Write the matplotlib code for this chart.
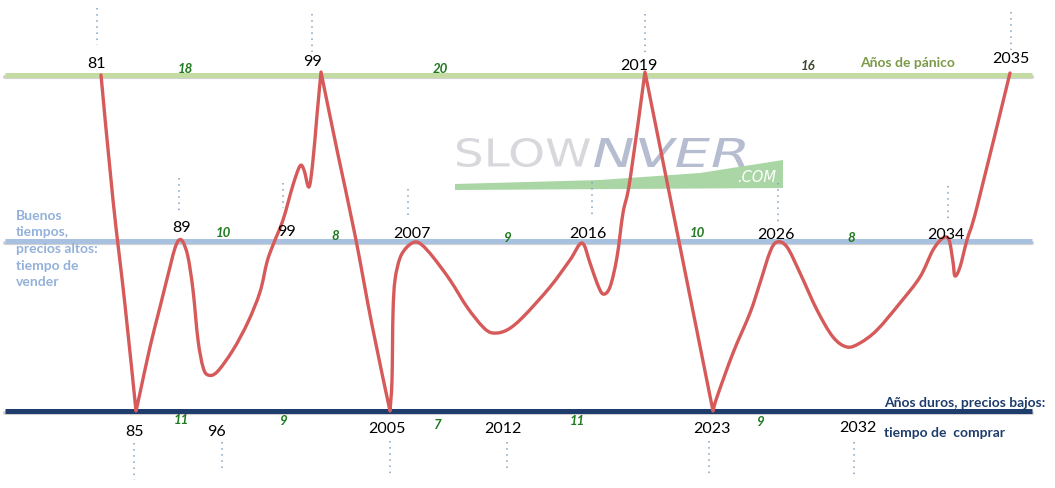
import matplotlib
matplotlib.use("Agg")
import numpy as np
import matplotlib.pyplot as plt
from matplotlib.textpath import TextPath
from matplotlib.patches import PathPatch, Polygon
from matplotlib.path import Path
from matplotlib.font_manager import FontProperties
from matplotlib.transforms import Affine2D

plt.rcParams['font.family'] = ['Lato', 'DejaVu Sans']

# Red cycle curve (x = position, y = level, top = 0)
curve_x = [101, 113, 125, 136,
           140, 150, 160, 170, 175, 179, 183, 188, 193, 198, 203, 208, 217, 233, 248, 260,
           267, 273, 283, 293, 300, 304, 309, 313, 317, 321,
           337, 355, 372, 390,
           392, 393, 395, 400, 407, 415, 422, 433, 450, 467, 483, 493, 507, 523, 550, 570,
           582, 590, 597, 603, 610, 617, 623, 630, 645,
           713,
           717, 733, 750, 760, 770, 777, 787, 800, 817, 833, 847, 860, 877, 900, 920, 933,
           943, 949, 953, 955, 960, 967, 977, 1010]
curve_y = [75, 200, 305, 411,
           393, 347, 307, 267, 248, 240, 242, 257, 290, 340, 367, 375, 372, 350, 322, 292,
           262, 245, 220, 185, 166, 170, 187, 160, 115, 72,
           150, 235, 325, 411,
           380, 313, 280, 258, 247, 242, 245, 257, 280, 307, 327, 333, 330, 317, 287, 260,
           243, 263, 283, 294, 287, 257, 213, 180, 72,
           411,
           397, 353, 313, 283, 252, 242, 247, 273, 310, 337, 347, 343, 330, 303, 277, 250,
           238, 240, 262, 276, 267, 240, 207, 73]
# sharp turning points of the curve (81, 85, 99, 2005, 2019, 2023, 2035)
corner_x = [101, 136, 321, 390, 645, 713, 1010]

# reference levels
level_panic = 75
level_good = 241
level_hard = 411

# year labels: text, x, y
top_years = ['81', '99', '2019', '2035']
top_years_x = [96, 313, 639, 1011]
top_years_y = [64, 62, 66, 59]
mid_years = ['89', '99', '2007', '2016', '2026', '2034']
mid_years_x = [182, 287, 412, 588, 776, 946]
mid_years_y = [228, 232, 234, 234, 235, 235]
low_years = ['85', '96', '2005', '2012', '2023', '2032']
low_years_x = [134, 217, 387, 503, 712, 858]
low_years_y = [432, 432, 429, 429, 429, 428]

# interval lengths (green italic numbers)
gaps = ['18', '20', '16', '10', '8', '9', '10', '8', '11', '9', '7', '11', '9']
gaps_x = [185, 440, 808, 223, 335, 508, 697, 851, 181, 284, 437, 577, 761]
gaps_y = [69, 69, 66, 233, 236, 238, 233, 238, 420, 421, 425, 421, 422]

# dotted markers: x, y start, y end
dots_x = [97, 312, 645, 1011, 179, 283, 408, 592, 778, 948, 134, 222, 390, 507, 709, 854]
dots_y0 = [8, 14, 14, 12, 178, 183, 189, 182, 183, 186, 443, 442, 441, 442, 441, 442]
dots_y1 = [45, 52, 52, 50, 213, 208, 218, 218, 222, 222, 480, 472, 475, 470, 475, 475]

fig = plt.figure(figsize=(10.55, 4.88), dpi=100)
ax = fig.add_axes([0, 0, 1, 1])
ax.set_xlim(0, 1055)
ax.set_ylim(488, 0)
ax.axis('off')

# watermark
wm_font = FontProperties(family='DejaVu Sans', weight='normal')
def wm_text(s, x0, x1, y_top, y_bot, color, skew=0):
    tp = TextPath((0, 0), s, size=10, prop=wm_font)
    ext = tp.get_extents()
    tr = (Affine2D().translate(-ext.x0, -ext.y0)
          .scale((x1 - x0) / ext.width, (y_bot - y_top) / ext.height))
    tr = tr.skew_deg(skew, 0).scale(1, -1).translate(x0, y_bot)
    ax.add_patch(PathPatch(tr.transform_path(tp), fc=color, ec='none', zorder=1))

wm_text('SLOW', 457, 590, 138, 167, '#d8d8dc')
wm_text('NVER', 594, 745, 138, 167, '#b6bdd0', skew=14)
ax.add_patch(Polygon([(455, 184), (600, 180), (700, 173), (783, 160), (783, 188), (455, 190)],
                     closed=True, fc='#a9d6a4', ec='none', zorder=1))
ax.text(757, 178, '.COM', color='white', fontsize=10.5, fontstyle='italic',
        ha='center', va='center', family='DejaVu Sans', zorder=2)

# level lines with soft shadow
for lvl, col in [(level_panic, '#c4dba2'), (level_good, '#a9c1e0'), (level_hard, '#1f3d6c')]:
    ax.plot([5, 1032], [lvl + 2, lvl + 2], color='#9a9a9a', lw=3, alpha=0.45,
            solid_capstyle='round', zorder=2)
    ax.plot([5, 1032], [lvl, lvl], color=col, lw=3.6, solid_capstyle='butt', zorder=3)

# dotted markers
for x, y0, y1 in zip(dots_x, dots_y0, dots_y1):
    ax.plot([x, x], [y0, y1], color='#7fa3c4', lw=1.1, ls=(0, (1, 3)), zorder=2)

# cycle curve: bezier path through the traced points, sharp at turning points
pts = np.column_stack([curve_x, curve_y]).astype(float)
n = len(pts)
verts = [pts[0]]
codes = [Path.MOVETO]
for i in range(n - 1):
    p1, p2 = pts[i], pts[i + 1]
    p0 = pts[i] if (i == 0 or curve_x[i] in corner_x) else pts[i - 1]
    p3 = pts[i + 1] if (i + 2 >= n or curve_x[i + 1] in corner_x) else pts[i + 2]
    verts += [p1 + (p2 - p0) / 6, p2 - (p3 - p1) / 6, p2]
    codes += [Path.CURVE4] * 3
ax.add_patch(PathPatch(Path(verts, codes), fc='none', ec='#d65a5a', lw=2.4,
                       joinstyle='round', capstyle='round', zorder=5))

for labs, xs, ys in [(top_years, top_years_x, top_years_y),
                     (mid_years, mid_years_x, mid_years_y),
                     (low_years, low_years_x, low_years_y)]:
    for s, x, y in zip(labs, xs, ys):
        ax.text(x, y, s, fontsize=11.5, color='black', ha='center', va='center', zorder=6)

for s, x, y in zip(gaps, gaps_x, gaps_y):
    col = '#3c4a30' if s == '16' else '#1f7a1f'
    ax.text(x, y, s, fontsize=9.5, color=col, ha='center', va='center',
            fontweight='bold', fontstyle='italic', zorder=6)

ax.text(908, 63, 'Años de pánico', fontsize=10, color='#7b9a48', fontweight='bold',
        ha='center', va='center', zorder=6)
ax.text(16, 249, 'Buenos\ntiempos,\nprecios altos:\ntiempo de\nvender', fontsize=10,
        color='#93b1da', fontweight='bold', ha='left', va='center', linespacing=1.45, zorder=6)
ax.text(884, 403, 'Años duros, precios bajos:', fontsize=10, color='#1f3d6c',
        fontweight='bold', ha='left', va='center', zorder=6)
ax.text(884, 433, 'tiempo de  comprar', fontsize=10, color='#1f3d6c',
        fontweight='bold', ha='left', va='center', zorder=6)

fig.savefig('out.png', dpi=100)
